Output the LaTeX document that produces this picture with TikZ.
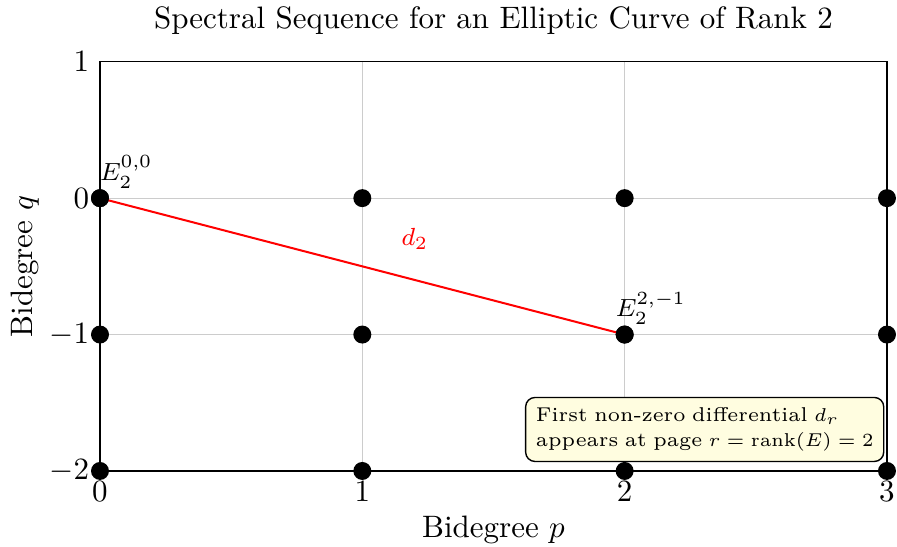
\documentclass[tikz,border=0pt]{standalone}
\begin{document}
\begin{tikzpicture}[x=84.62pt,y=44.0pt,
  gridline/.style={draw=black!20, line width=0.35pt},
  frame/.style={draw=black, line width=0.45pt},
  dot/.style={circle, fill=black, inner sep=0pt, minimum size=5.8pt},
  ticklab/.style={inner sep=3.33pt},
  elabel/.style={font=\footnotesize, inner sep=0pt},
  diffline/.style={draw=red, line width=0.65pt},
  notebox/.style={draw=black, line width=0.45pt, fill=yellow!12, rounded corners=3pt,
    font=\fontsize{6.45}{8}\selectfont, align=left, text width=108.9pt,
    inner xsep=3.3pt, inner ysep=3.3pt}
]
\useasboundingbox (-0.3812,-2.5532) rectangle (3.0382,1.4527);

% grid
\foreach \p in {1,2} \draw[gridline] (\p,-2) -- (\p,1);
\foreach \q in {0,-1} \draw[gridline] (0,\q) -- (3,\q);
% frame
\draw[frame] (0,-2) rectangle (3,1);

% tick labels
\foreach \p in {0,1,2,3} \node[ticklab, anchor=north] (xt\p) at (\p,-2) {$\p$};
\node[ticklab, anchor=east] (yt1) at (0,1) {$1$};
\node[ticklab, anchor=east] (yt0) at (0,0) {$0$};
\node[ticklab, anchor=east] (ytm1) at (0,-1) {$-1$};
\node[ticklab, anchor=east] (ytm2) at (0,-2) {$-2$};

% axis labels and title
\node[anchor=base] (title) at (1.5,1.2463) {Spectral Sequence for an Elliptic Curve of Rank 2};
\node[anchor=base] (xlab) at (1.5,-2.485) {Bidegree $p$};
\node[anchor=base, rotate=90] (ylab) at (-0.2554,-0.5) {Bidegree $q$};

% dots
\foreach \p in {0,1,2,3} {
  \node[dot] (d\p z) at (\p,0) {};
  \node[dot] (d\p m1) at (\p,-1) {};
  \node[dot] (d\p m2) at (\p,-2) {};
}

% differential
\draw[diffline] (d0z.center) -- (d2m1.center);
\node[dot] (d0zb) at (d0z.center) {};
\node[dot] (d2m1b) at (d2m1.center) {};
\node[elabel, text=red] (dlab) at (1.2,-0.3) {$d_2$};

% labels
\node[elabel] (e00) at (0.1,0.19) {$E_2^{0,0}$};
\node[elabel] (e21) at (2.1,-0.81) {$E_2^{2,-1}$};

% note
\node[notebox, anchor=south west] (note) at (1.620,-1.9355)
  {First non-zero differential $d_r$\\appears at page $r = \mathrm{rank}(E) = 2$};
\end{tikzpicture}
\end{document}
